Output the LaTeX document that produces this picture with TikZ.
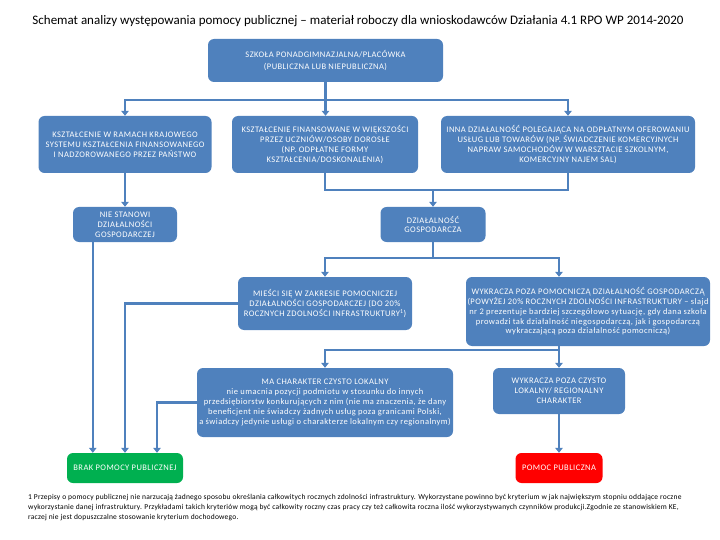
\documentclass[tikz,border=0pt]{standalone}
\usepackage{fontspec}
\setmainfont{Carlito}
\newfontfamily\blokfont[LetterSpace=5]{Carlito}
\newfontfamily\przypisfont[LetterSpace=3]{Carlito}
\usetikzlibrary{arrows.meta,calc}
\definecolor{blok}{RGB}{79,129,189}
\definecolor{linia}{RGB}{79,129,189}
\definecolor{zielen}{RGB}{0,176,80}
\definecolor{czerwien}{RGB}{255,0,0}
\tikzset{
  blok/.style={fill=blok, rounded corners=6pt, text=white, align=center, inner sep=0pt, font=\blokfont\fontsize{8.5}{9.8}\selectfont}, % niebieskie pola
  zielone/.style={blok, fill=zielen},
  czerwone/.style={blok, fill=czerwien},
  polacz/.style={draw=linia, line width=2.5pt},
  strzalka/.style={polacz, -{Triangle[width=7.5pt,length=5pt]}},
}

\begin{document}
\begin{tikzpicture}[x=1pt,y=1pt,yscale=-1,xscale=1]
	\useasboundingbox (0,0) rectangle (720,540);

	% Text Node
	\node (tytul) at (358,21) [font=\fontsize{13}{15}\selectfont] {Schemat analizy występowania pomocy publicznej – materiał roboczy dla wnioskodawców Działania 4.1 RPO WP 2014-2020};
	% Text Node
	\node (szkola) at (325.5,60.5) [blok, minimum width=235pt, minimum height=43pt] {SZKOŁA PONADGIMNAZJALNA/PLACÓWKA\\[2pt](PUBLICZNA LUB NIEPUBLICZNA)};
	% Text Node
	\node (krajowe) at (125,144.5) [blok, minimum width=173pt, minimum height=57pt] {KSZTAŁCENIE W RAMACH KRAJOWEGO\\SYSTEMU KSZTAŁCENIA FINANSOWANEGO\\I NADZOROWANEGO PRZEZ PAŃSTWO};
	% Text Node
	\node (odplatne) at (325,144.5) [blok, minimum width=186pt, minimum height=57pt] {KSZTAŁCENIE FINANSOWANE W WIĘKSZOŚCI\\PRZEZ UCZNIÓW/OSOBY DOROSŁE\\(NP. ODPŁATNE FORMY\\KSZTAŁCENIA/DOSKONALENIA)};
	% Text Node
	\node (inna) at (568,144.5) [blok, minimum width=254pt, minimum height=57pt] {INNA DZIAŁALNOŚĆ POLEGAJĄCA NA ODPŁATNYM OFEROWANIU\\USŁUG LUB TOWARÓW (NP. ŚWIADCZENIE KOMERCYJNYCH\\NAPRAW SAMOCHODÓW W WARSZTACIE SZKOLNYM,\\KOMERCYJNY NAJEM SAL)};
	% Text Node
	\node (niegosp) at (125,224.5) [blok, minimum width=104pt, minimum height=35pt] {NIE STANOWI\\DZIAŁALNOŚCI\\GOSPODARCZEJ};
	% Text Node
	\node (gosp) at (433,224.5) [blok, minimum width=105pt, minimum height=35pt] {DZIAŁALNOŚĆ\\GOSPODARCZA};
	% Text Node
	\node (pomocn) at (325,303.5) [blok, minimum width=174pt, minimum height=53pt] {MIEŚCI SIĘ W ZAKRESIE POMOCNICZEJ\\DZIAŁALNOŚCI GOSPODARCZEJ (DO 20\%\\ROCZNYCH ZDOLNOŚCI INFRASTRUKTURY\textsuperscript{1})};
	% Text Node
	\node (ponad) at (588,311.5) [blok, minimum width=244pt, minimum height=69pt] {WYKRACZA POZA POMOCNICZĄ DZIAŁALNOŚĆ GOSPODARCZĄ\\(POWYŻEJ 20\% ROCZNYCH ZDOLNOŚCI INFRASTRUKTURY – slajd\\nr 2 prezentuje bardziej szczegółowo sytuację, gdy dana szkoła\\prowadzi tak działalność niegospodarczą, jak i gospodarczą\\wykraczającą poza działalność pomocniczą)};
	% Text Node
	\node (lokal) at (325,402.5) [blok, minimum width=256pt, minimum height=69pt] {MA CHARAKTER CZYSTO LOKALNY\\nie umacnia pozycji podmiotu w stosunku do innych\\przedsiębiorstw konkurujących z nim (nie ma znaczenia, że dany\\beneficjent nie świadczy żadnych usług poza granicami Polski,\\a świadczy jedynie usługi o charakterze lokalnym czy regionalnym)};
	% Text Node
	\node (regional) at (559,391) [blok, minimum width=132pt, minimum height=46pt] {WYKRACZA POZA CZYSTO\\LOKALNY/ REGIONALNY\\CHARAKTER};
	% Text Node
	\node (brak) at (125,468) [zielone, minimum width=116pt, minimum height=30pt] {BRAK POMOCY PUBLICZNEJ};
	% Text Node
	\node (pomoc) at (559,468) [czerwone, minimum width=87pt, minimum height=30pt] {POMOC PUBLICZNA};
	% Text Node
	\node (przypis) at (28,494) [anchor=north west, inner sep=0pt, align=left, font=\przypisfont\fontsize{7.5}{9.8}\selectfont] {1 Przepisy o pomocy publicznej nie narzucają żadnego sposobu określania całkowitych rocznych zdolności infrastruktury. Wykorzystane powinno być kryterium w jak największym stopniu oddające roczne\\wykorzystanie danej infrastruktury. Przykładami takich kryteriów mogą być całkowity roczny czas pracy czy też całkowita roczna ilość wykorzystywanych czynników produkcji.Zgodnie ze stanowiskiem KE,\\raczej nie jest dopuszczalne stosowanie kryterium dochodowego.};

	% Connection
	\coordinate (w1) at ($(szkola.south)+(0,18)$);
	\draw [polacz] (szkola) -- (w1);
	\draw [strzalka] (w1) -| (krajowe);
	\draw [strzalka] (w1) -- (w1 |- odplatne.north);
	\draw [strzalka] (w1) -| (inna);
	% Connection
	\draw [strzalka] (krajowe) -- (niegosp);
	% Connection
	\coordinate (w2) at ($(gosp.north)+(0,-17)$);
	\draw [polacz] (odplatne.south) |- (w2);
	\draw [polacz] (inna.south) |- (w2);
	\draw [strzalka] (w2) -- (gosp);
	% Connection
	\coordinate (w3) at ($(gosp.south)+(0,16)$);
	\draw [polacz] (gosp) -- (w3);
	\draw [strzalka] (w3) -| (pomocn);
	\draw [strzalka] (w3) -| (ponad.north -| pomoc);
	% Connection
	\coordinate (w4) at ($(ponad.south -| pomoc)+(0,4)$);
	\draw [polacz] (ponad.south -| pomoc) -- (w4);
	\draw [strzalka] (w4) -| (lokal);
	\draw [strzalka] (w4) -- (regional);
	% Connection
	\draw [strzalka] ([xshift=20pt]niegosp.south west) -- ([xshift=26pt]brak.north west);
	\draw [strzalka] (pomocn) -| (brak);
	\draw [strzalka] (lokal) -| ([xshift=32pt]brak.north);
	% Connection
	\draw [strzalka] (regional) -- (pomoc);

\end{tikzpicture}
\end{document}
